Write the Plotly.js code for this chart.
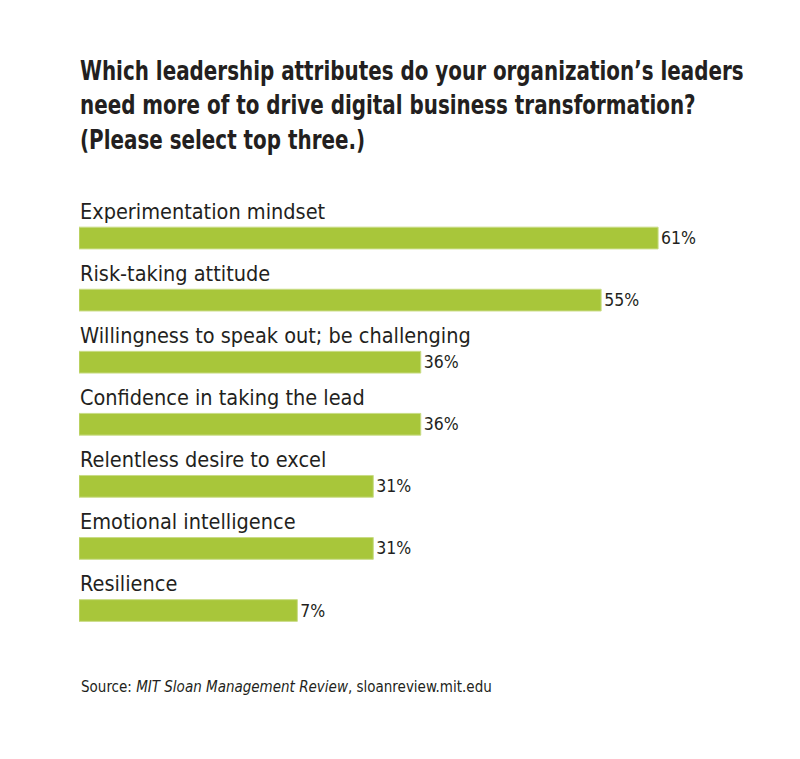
<!DOCTYPE html>
<html>
<head>
<meta charset="utf-8">
<script src="https://cdn.plot.ly/plotly-3.0.1.min.js"></script>
<style>
html,body{margin:0;padding:0;background:#fff;}
#chart{width:800px;height:759px;}
svg text{font-stretch:condensed !important;}
#chart .gtitle{transform-origin:80px 0px;transform:scaleX(0.835);}
</style>
</head>
<body>
<div id="chart"></div>
<script>
const categories = [
  "Experimentation mindset",
  "Risk-taking attitude",
  "Willingness to speak out; be challenging",
  "Confidence in taking the lead",
  "Relentless desire to excel",
  "Emotional intelligence",
  "Resilience"
];
// bar lengths as drawn in the reference
const barLengths = [61, 55, 36, 36, 31, 31, 23];
// printed value labels
const valueLabels = ["61%", "55%", "36%", "36%", "31%", "31%", "7%"];

const titleText = "Which leadership attributes do your organization’s leaders<br>need more of to drive digital business transformation?<br>(Please select top three.)";
const sourceText = "Source: <i>MIT Sloan Management Review</i>, sloanreview.mit.edu";

const textColor = "#231f20";
const barColor = "#a8c63a";
const font = "'DejaVu Sans', sans-serif";

const trace = {
  type: "bar",
  orientation: "h",
  y: categories,
  x: barLengths,
  text: valueLabels,
  textposition: "outside",
  cliponaxis: false,
  textfont: {family: font, size: 17.5, color: textColor},
  marker: {color: barColor, line: {color: "#c9dc86", width: 1}},
  hoverinfo: "skip"
};

const annotations = categories.map(c => ({
  x: 0, y: c, xref: "x", yref: "y",
  text: c, showarrow: false,
  xanchor: "left", yanchor: "middle", align: "left",
  xshift: -1, yshift: 27,
  font: {family: font, size: 21.5, color: textColor}
}));
annotations.push({
  xref: "paper", yref: "paper", x: 0, y: -0.055,
  xanchor: "left", yanchor: "top", align: "left", xshift: 0,
  text: sourceText, showarrow: false,
  font: {family: font, size: 15, color: textColor}
});

const layout = {
  width: 800, height: 759,
  paper_bgcolor: "#ffffff", plot_bgcolor: "#ffffff",
  margin: {l: 79, r: 9, t: 207, b: 107},
  bargap: 0.65,
  showlegend: false,
  title: {
    text: titleText,
    x: 80/800, xref: "container", xanchor: "left",
    y: 1 - 80/759, yref: "container", yanchor: "top",
    font: {family: font, size: 26.5, color: textColor, weight: "bold"}
  },
  xaxis: {range: [0, 75], visible: false, fixedrange: true},
  yaxis: {autorange: "reversed", visible: false, fixedrange: true},
  annotations: annotations
};

Plotly.newPlot("chart", [trace], layout, {displayModeBar: false, staticPlot: true});
</script>
</body>
</html>
